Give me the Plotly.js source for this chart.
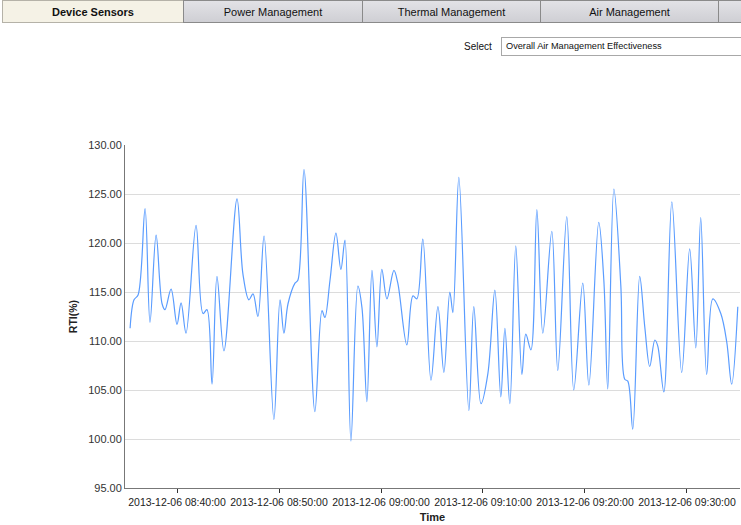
<!DOCTYPE html>
<html>
<head>
<meta charset="utf-8">
<script src="https://cdn.plot.ly/plotly-3.0.1.min.js"></script>
<style>
  html, body { margin:0; padding:0; width:741px; height:525px; overflow:hidden; background:#fff; font-family:"Liberation Sans", Arial, sans-serif; }
  #chart { position:absolute; left:0; top:0; width:741px; height:525px; }
  .tab { position:absolute; top:0; height:23px; line-height:23px; text-align:center; font-size:11px; color:#111;
         background:linear-gradient(#e2e2e6,#cfcfd4); border:1px solid #8a8a8a; box-sizing:border-box; }
  .tab.active { background:#f5f2e6; font-weight:bold; border-color:#b5b2a8; }
  #sel-label { position:absolute; left:464px; top:41px; font-size:10px; color:#111; }
  #sel-box { position:absolute; left:501px; top:37px; width:260px; height:19px; border:1px solid #a8a8a8; box-sizing:border-box;
             font-size:9.2px; line-height:17px; padding-left:4px; color:#111; background:#fff; }
</style>
</head>
<body>
<div id="chart"></div>
<div class="tab active" style="left:2px;width:182px;">Device Sensors</div>
<div class="tab" style="left:183px;width:180px;">Power Management</div>
<div class="tab" style="left:362px;width:179px;">Thermal Management</div>
<div class="tab" style="left:540px;width:179px;">Air Management</div>
<div class="tab" style="left:718px;width:40px;"></div>
<div id="sel-label">Select</div>
<div id="sel-box">Overall Air Management Effectiveness</div>
<script>
const day = '2013-12-06';
const times = ['08:35:24','08:35:47','08:36:11','08:36:52','08:37:21','08:37:57','08:38:32','08:38:49','08:39:25','08:40:00',
  '08:40:24','08:40:53','08:41:52','08:42:33','08:42:56','08:43:26','08:43:55','08:44:36','08:45:53','08:46:28',
  '08:47:03','08:47:27','08:47:56','08:48:32','08:49:30','08:50:06','08:50:29','08:50:53','08:51:34','08:51:51',
  '08:52:27','08:53:31','08:54:13','08:54:30','08:55:00','08:55:35','08:56:04','08:56:28','08:57:03','08:57:44',
  '08:58:08','08:58:37','08:59:07','08:59:36','09:00:05','09:00:35','09:01:16','09:01:39','09:02:32','09:03:08',
  '09:03:31','09:04:06','09:04:54','09:05:35','09:06:10','09:06:45','09:07:03','09:07:38','09:08:37','09:09:06',
  '09:09:48','09:10:29','09:11:10','09:11:45','09:12:09','09:12:38','09:13:13','09:13:49','09:14:12','09:14:42',
  '09:15:17','09:15:52','09:16:45','09:17:20','09:18:13','09:18:54','09:19:47','09:20:23','09:21:21','09:21:51',
  '09:22:14','09:22:50','09:23:31','09:23:54','09:24:12','09:24:41','09:25:22','09:25:52','09:26:21','09:26:51',
  '09:27:08','09:27:44','09:28:31','09:29:29','09:30:16','09:30:52','09:31:21','09:31:56','09:32:32','09:33:19',
  '09:33:54','09:34:23','09:34:59'];
const rti = [111.3,114.2,114.7,123.5,111.9,120.8,113.8,113.2,115.3,111.7,
  113.9,110.8,121.8,112.8,113.2,105.6,116.6,109.0,124.5,116.8,
  114.2,114.8,112.5,120.7,102.0,114.2,110.8,113.8,115.9,116.2,
  127.5,102.8,113.1,112.4,116.2,121.0,117.3,120.3,99.8,115.6,
  113.4,103.8,117.2,109.4,117.3,114.3,117.2,115.9,109.6,114.6,
  114.3,120.4,106.0,113.5,106.8,115.0,112.9,126.7,102.9,113.5,
  103.6,106.7,115.2,104.3,111.3,103.6,119.7,106.6,110.7,109.1,
  123.4,110.8,121.2,107.0,122.7,105.0,115.9,105.5,122.1,116.2,
  105.1,125.5,115.6,106.1,105.9,101.0,116.6,111.4,107.4,110.1,
  109.5,104.8,124.2,106.8,119.4,109.3,122.6,106.6,114.3,112.8,
  109.9,105.6,113.5];
const xRange = ['08:34:54','09:35:12'];
const yRange = [95,130];
const xTitle = 'Time';
const yTitle = 'RTI(%)';

const x = times.map(t => day + ' ' + t);
const trace = {
  x: x, y: rti, type:'scatter', mode:'lines',
  line:{color:'#5a9cff', width:1.2, shape:'spline', smoothing:1},
  hoverinfo:'skip'
};
const layout = {
  width:741, height:525,
  margin:{l:125, r:1, t:145, b:37},
  paper_bgcolor:'rgba(0,0,0,0)', plot_bgcolor:'#fff',
  showlegend:false,
  font:{family:'"Liberation Sans", Arial, sans-serif', size:11, color:'#333'},
  xaxis:{
    type:'date', range:xRange.map(t => day + ' ' + t),
    tick0: day + ' 08:40:00', dtick:600000, tickformat:'%Y-%m-%d %H:%M:%S',
    showgrid:false, showline:true, linecolor:'#777', linewidth:1,
    ticks:'outside', ticklen:4, tickcolor:'#333', tickfont:{size:10.5, color:'#222'},
    title:{text:xTitle, font:{size:11, color:'#222', weight:'bold'}, standoff:6},
    automargin:false, zeroline:false
  },
  yaxis:{
    range:yRange, dtick:5, tick0:95, tickformat:'.2f',
    showgrid:true, gridcolor:'#dcdcdc', gridwidth:1,
    showline:true, linecolor:'#777', linewidth:1,
    ticks:'', tickfont:{size:11, color:'#333'},
    title:{text:yTitle, font:{size:10.5, color:'#222', weight:'bold'}, standoff:8},
    automargin:false, zeroline:false
  }
};
Plotly.newPlot('chart', [trace], layout, {displayModeBar:false, staticPlot:true});
</script>
</body>
</html>
